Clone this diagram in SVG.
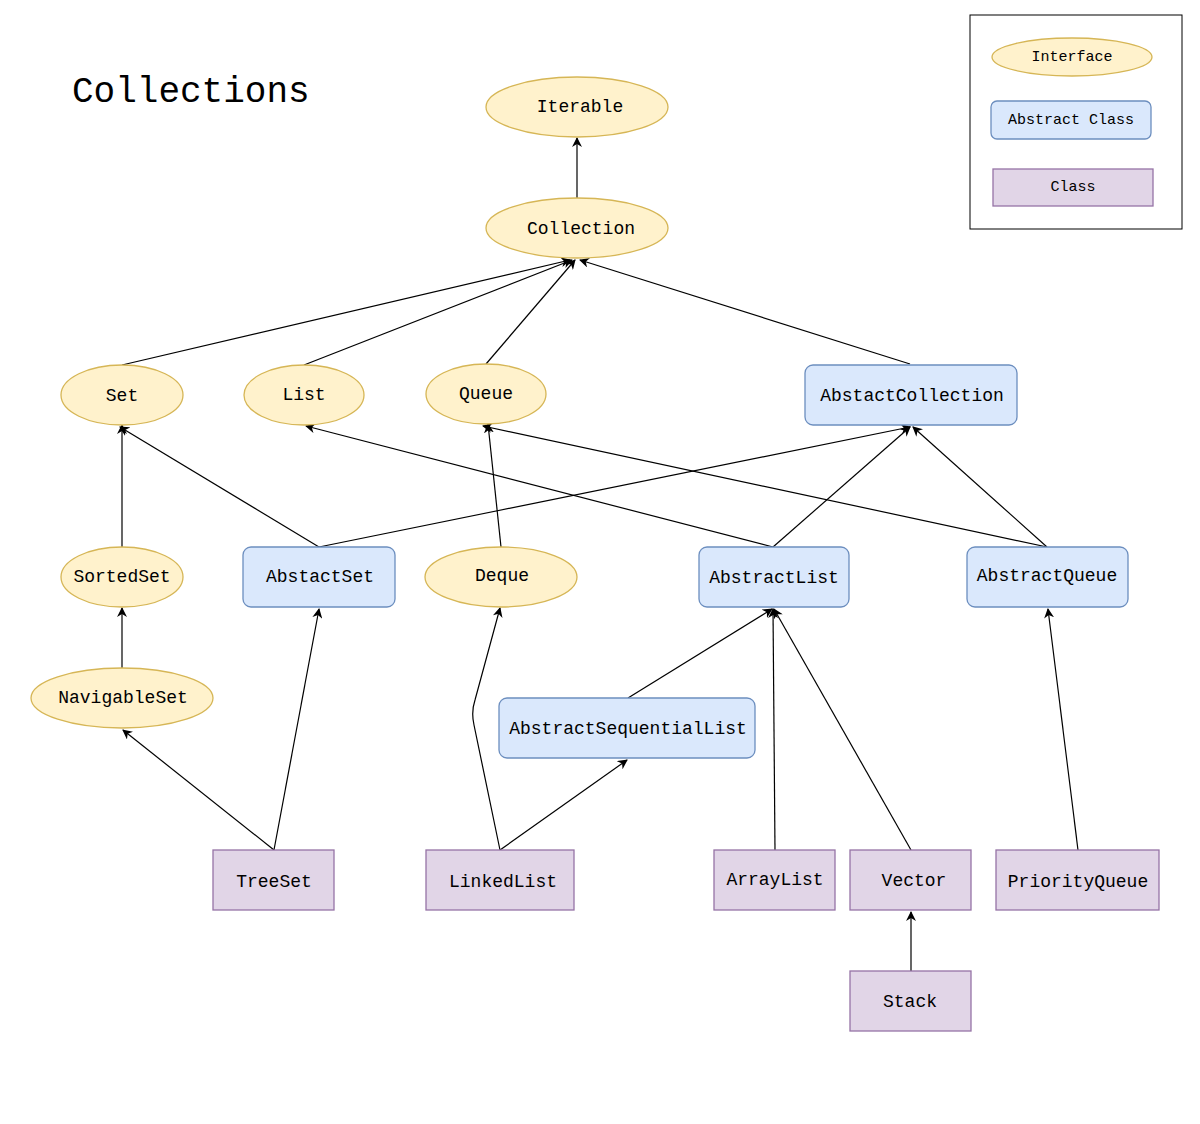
<svg xmlns="http://www.w3.org/2000/svg" width="1200" height="1124" viewBox="0 0 1200 1124">
<style>
.i{fill:#fff2cc;stroke:#d6b656;stroke-width:1.3}
.a{fill:#dae8fc;stroke:#6c8ebf;stroke-width:1.3}
.c{fill:#e1d5e7;stroke:#9673a6;stroke-width:1.3}
text{font-family:"Liberation Mono",monospace;font-size:18px;text-anchor:middle;dominant-baseline:central;fill:#000}
.s{font-size:15px}
.e{fill:none;stroke:#000;stroke-width:1.2;marker-end:url(#m)}
</style>
<defs><marker id="m" viewBox="0 0 10 10" refX="9" refY="5" markerWidth="10" markerHeight="10" markerUnits="userSpaceOnUse" orient="auto"><path d="M0,0 L10,5 L0,10 L3,5 Z" fill="#000"/></marker></defs>
<rect width="1200" height="1124" fill="#fff"/>
<text x="72" y="92" style="font-size:36px;text-anchor:start">Collections</text>
<g id="legend"><rect x="970" y="15" width="212" height="214" fill="#fff" stroke="#000"/>
<ellipse class="i" cx="1072" cy="57" rx="80" ry="19"/><text class="s" x="1072" y="57">Interface</text>
<rect class="a" x="991" y="101" width="160" height="38" rx="6"/><text class="s" x="1071" y="120">Abstract Class</text>
<rect class="c" x="993" y="169" width="160" height="37"/><text class="s" x="1073" y="187">Class</text></g>
<g id="edges">
<path class="e" d="M577,198 L577,138"/>
<path class="e" d="M122,365 L570,260"/>
<path class="e" d="M304,365 L572,260"/>
<path class="e" d="M486,364 L575,260"/>
<path class="e" d="M910,364 L580,260"/>
<path class="e" d="M122,547 L122,425"/>
<path class="e" d="M319,547 L120,427"/>
<path class="e" d="M319,547 L910,427"/>
<path class="e" d="M501,547 L488,424"/>
<path class="e" d="M773,547 L306,426"/>
<path class="e" d="M773,547 L910,427"/>
<path class="e" d="M1047,547 L483,426"/>
<path class="e" d="M1047,547 L913,427"/>
<path class="e" d="M122,668 L122,608"/>
<path class="e" d="M628,698 L772,609"/>
<path class="e" d="M274,850 L123,730"/>
<path class="e" d="M274,850 L319,609"/>
<path class="e" d="M500,850 L627,760"/>
<path class="e" d="M500,850 L474,725 Q471,712 475,700 L500,608"/>
<path class="e" d="M775,850 L773,609"/>
<path class="e" d="M911,850 L774,609"/>
<path class="e" d="M911,971 L911,912"/>
<path class="e" d="M1078,850 L1048,609"/>
</g>
<g id="Iterable"><ellipse class="i" cx="577" cy="107" rx="91" ry="30"/><text x="580" y="107">Iterable</text></g>
<g id="Collection"><ellipse class="i" cx="577" cy="228" rx="91" ry="30"/><text x="581" y="229">Collection</text></g>
<g id="Set"><ellipse class="i" cx="122" cy="395" rx="61" ry="30"/><text x="122" y="396">Set</text></g>
<g id="List"><ellipse class="i" cx="304" cy="395" rx="60" ry="30"/><text x="304" y="395">List</text></g>
<g id="Queue"><ellipse class="i" cx="486" cy="394" rx="60" ry="30"/><text x="486" y="394">Queue</text></g>
<g id="AbstactCollection"><rect class="a" x="805" y="365" width="212" height="60" rx="8"/><text x="912" y="396">AbstactCollection</text></g>
<g id="SortedSet"><ellipse class="i" cx="122" cy="577" rx="61" ry="30"/><text x="122" y="577">SortedSet</text></g>
<g id="AbstactSet"><rect class="a" x="243" y="547" width="152" height="60" rx="8"/><text x="320" y="577">AbstactSet</text></g>
<g id="Deque"><ellipse class="i" cx="501" cy="577" rx="76" ry="30"/><text x="502" y="576">Deque</text></g>
<g id="AbstractList"><rect class="a" x="699" y="547" width="150" height="60" rx="8"/><text x="774" y="578">AbstractList</text></g>
<g id="AbstractQueue"><rect class="a" x="967" y="547" width="161" height="60" rx="8"/><text x="1047" y="576">AbstractQueue</text></g>
<g id="NavigableSet"><ellipse class="i" cx="122" cy="698" rx="91" ry="30"/><text x="123" y="698">NavigableSet</text></g>
<g id="AbstractSequentialList"><rect class="a" x="499" y="698" width="256" height="60" rx="8"/><text x="628" y="729">AbstractSequentialList</text></g>
<g id="TreeSet"><rect class="c" x="213" y="850" width="121" height="60"/><text x="274" y="882">TreeSet</text></g>
<g id="LinkedList"><rect class="c" x="426" y="850" width="148" height="60"/><text x="503" y="882">LinkedList</text></g>
<g id="ArrayList"><rect class="c" x="714" y="850" width="121" height="60"/><text x="775" y="880">ArrayList</text></g>
<g id="Vector"><rect class="c" x="850" y="850" width="121" height="60"/><text x="914" y="881">Vector</text></g>
<g id="PriorityQueue"><rect class="c" x="996" y="850" width="163" height="60"/><text x="1078" y="882">PriorityQueue</text></g>
<g id="Stack"><rect class="c" x="850" y="971" width="121" height="60"/><text x="910" y="1002">Stack</text></g>
</svg>
